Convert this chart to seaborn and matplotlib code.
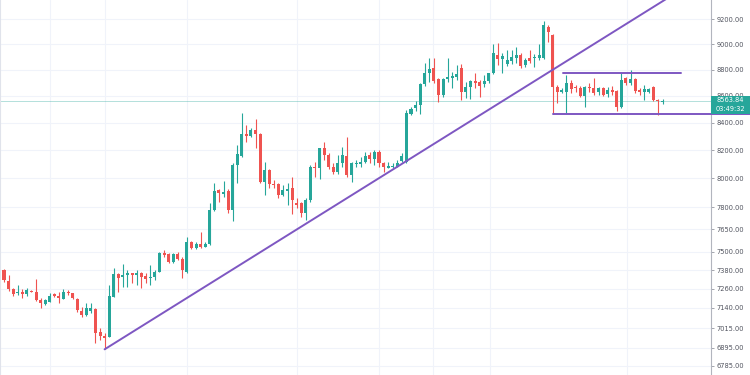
import numpy as np
import pandas as pd
import seaborn as sns
import matplotlib
matplotlib.use("Agg")
import matplotlib.pyplot as plt
from matplotlib.patches import Rectangle
from matplotlib.ticker import FixedLocator, NullLocator, FuncFormatter

# OHLC, one row of ten candles per line
opens = [7381, 7312, 7257, 7232, 7242, 7225, 7248, 7238, 7189, 7162,
         7179, 7225, 7215, 7196, 7238, 7232, 7196, 7120, 7095, 7122,
         7133, 6992, 6966, 6962, 7210, 7353, 7334, 7349, 7360, 7349,
         7360, 7345, 7328, 7338, 7371, 7494, 7486, 7435, 7486, 7453,
         7366, 7563, 7523, 7552, 7534, 7552, 7780, 7918, 7890, 7911,
         7777, 8092, 8161, 8315, 8305, 8346, 8315, 7972, 8058, 7963,
         7958, 7883, 7911, 7934, 7830, 7826, 7757, 7849, 8079, 8070,
         8213, 8165, 8082, 8042, 8106, 8158, 8023, 8098, 8098, 8117,
         8165, 8134, 8189, 8106, 8075, 8078, 8082, 8125, 8117, 8463,
         8509, 8531, 8688, 8772, 8810, 8726, 8607, 8726, 8736, 8744,
         8810, 8628, 8667, 8713, 8708, 8688, 8713, 8772, 8914, 8880,
         8841, 8869, 8893, 8914, 8836, 8893, 8888, 8893, 8893, 9138,
         9075, 8669, 8632, 8632, 8695, 8670, 8662, 8601, 8670, 8662,
         8632, 8657, 8612, 8644, 8637, 8516, 8734, 8695, 8726, 8644,
         8632, 8632, 8670, 8569, 8554]
highs = [7388, 7349, 7265, 7285, 7259, 7264, 7253, 7321, 7204, 7196,
         7232, 7236, 7242, 7257, 7253, 7236, 7204, 7148, 7172, 7168,
         7137, 7013, 6982, 7285, 7392, 7364, 7420, 7381, 7364, 7381,
         7371, 7360, 7414, 7381, 7501, 7512, 7494, 7490, 7501, 7468,
         7600, 7573, 7567, 7630, 7567, 7826, 7965, 7925, 7980, 7923,
         8106, 8237, 8469, 8383, 8361, 8427, 8322, 8117, 8063, 7988,
         7965, 7953, 7965, 8006, 7860, 7837, 7860, 8094, 8117, 8218,
         8261, 8177, 8106, 8165, 8225, 8297, 8117, 8129, 8153, 8189,
         8189, 8201, 8201, 8117, 8117, 8106, 8129, 8180, 8494, 8518,
         8561, 8695, 8855, 8894, 8894, 8734, 8734, 8894, 8785, 8836,
         8844, 8705, 8720, 8772, 8720, 8759, 8777, 8997, 9006, 8932,
         8953, 8953, 8976, 8932, 8888, 8953, 8919, 8997, 9184, 9152,
         9083, 8682, 8657, 8759, 8720, 8682, 8677, 8677, 8695, 8738,
         8670, 8670, 8670, 8677, 8644, 8772, 8746, 8797, 8734, 8657,
         8682, 8662, 8677, 8576, 8576]
lows = [7304, 7248, 7215, 7221, 7202, 7217, 7238, 7185, 7137, 7158,
        7175, 7210, 7172, 7194, 7223, 7194, 7116, 7085, 7087, 7110,
        6921, 6941, 6885, 6960, 7206, 7242, 7270, 7274, 7296, 7285,
        7264, 7300, 7285, 7317, 7367, 7468, 7428, 7428, 7446, 7328,
        7360, 7516, 7516, 7523, 7530, 7545, 7776, 7837, 7867, 7760,
        7708, 7967, 8153, 8261, 8294, 8213, 7965, 7883, 7930, 7930,
        7865, 7878, 7815, 7751, 7792, 7735, 7712, 7837, 8006, 7995,
        8129, 8065, 8030, 8033, 8082, 8011, 7976, 8082, 8082, 8106,
        8106, 8094, 8082, 8046, 8070, 8070, 8077, 8117, 8110, 8457,
        8488, 8461, 8677, 8707, 8695, 8556, 8594, 8707, 8657, 8720,
        8569, 8581, 8576, 8657, 8594, 8670, 8695, 8764, 8836, 8772,
        8828, 8846, 8855, 8810, 8823, 8849, 8823, 8875, 8880, 9018,
        8467, 8550, 8619, 8471, 8619, 8632, 8594, 8516, 8627, 8607,
        8607, 8601, 8594, 8607, 8486, 8511, 8682, 8682, 8619, 8607,
        8569, 8619, 8561, 8459, 8537]
closes = [7317, 7257, 7225, 7242, 7225, 7253, 7242, 7189, 7168, 7189,
          7217, 7215, 7200, 7238, 7232, 7200, 7127, 7095, 7137, 7141,
          6982, 6966, 6952, 7217, 7353, 7332, 7347, 7364, 7349, 7360,
          7338, 7323, 7338, 7371, 7494, 7479, 7435, 7486, 7451, 7381,
          7563, 7523, 7550, 7530, 7550, 7780, 7911, 7899, 7906, 7780,
          8094, 8170, 8315, 8305, 8346, 8315, 7972, 8058, 7963, 7953,
          7883, 7918, 7925, 7849, 7815, 7757, 7849, 8077, 8070, 8213,
          8165, 8082, 8042, 8106, 8165, 8023, 8106, 8110, 8117, 8158,
          8134, 8189, 8106, 8082, 8087, 8087, 8110, 8158, 8474, 8505,
          8531, 8688, 8772, 8805, 8713, 8607, 8726, 8744, 8751, 8766,
          8628, 8667, 8713, 8695, 8677, 8713, 8772, 8930, 8880, 8906,
          8875, 8901, 8914, 8828, 8875, 8867, 8901, 8914, 9152, 9093,
          8669, 8629, 8644, 8695, 8652, 8662, 8601, 8670, 8662, 8619,
          8657, 8607, 8644, 8627, 8516, 8720, 8695, 8726, 8637, 8632,
          8652, 8652, 8569, 8561, 8563.84]

price_ticks = [6785, 6895, 7015, 7140, 7260, 7380, 7500, 7650, 7800,
               8000, 8200, 8400, 8600, 8800, 9000, 9200]
date_grid = [10.1, 22.1, 40.0, 64.1, 82.0, 93.8, 106.3, 136.2]

last_price = 8563.84
countdown = "03:49:32"

# drawn levels: trendline anchors, range box
trend_a = (22, 6885)
trend_b = (88, 8122)
resistance = 8771
resistance_span = (122.3, 148.1)
support = 8466
support_span = (120, 163.2)

UP = "#26a69a"
DOWN = "#ef5350"
PURPLE = "#7e57c2"

df = pd.DataFrame({"open": opens, "high": highs, "low": lows, "close": closes})
df["idx"] = np.arange(len(df))
df["up"] = df["close"] >= df["open"]

sns.set_theme(style="white")
plt.rcParams["font.family"] = ["DejaVu Sans"]

fig = plt.figure(figsize=(7.5, 3.75), dpi=100)
ax = fig.add_axes([0, 0, 711 / 750, 1])
ax.set_yscale("log")

colors = np.where(df["up"], UP, DOWN)
ax.vlines(df["idx"], df["low"], df["high"], colors=colors, lw=0.8, zorder=3)
body_low = df[["open", "close"]].min(axis=1)
body_h = np.maximum((df["close"] - df["open"]).abs(), body_low * 0.001)
ax.bar(df["idx"], body_h, bottom=body_low, width=0.66, color=colors,
       linewidth=0, zorder=4)

# trendline, straight on the log scale
slope = (np.log(trend_b[1]) - np.log(trend_a[1])) / (trend_b[0] - trend_a[0])
tx = np.array([trend_a[0], 150])
ty = np.exp(np.log(trend_a[1]) + slope * (tx - trend_a[0]))
sns.lineplot(x=tx, y=ty, ax=ax, color=PURPLE, lw=1.4, zorder=5, legend=False)

ax.plot(resistance_span, [resistance] * 2, color=PURPLE, lw=1.4, zorder=5)
ax.plot(support_span, [support] * 2, color=PURPLE, lw=1.4, zorder=5, clip_on=False)

ax.axhline(last_price, color=UP, lw=0.7, alpha=0.35, zorder=2)

ax.set_xlim(-0.875, 154.6)
ax.set_ylim(6731.6, 9354.7)
ax.set_xlabel("")
ax.set_ylabel("")

ax.yaxis.set_major_locator(FixedLocator(price_ticks))
ax.yaxis.set_minor_locator(NullLocator())
ax.yaxis.set_major_formatter(FuncFormatter(lambda v, _: f"{v:.2f}"))
ax.yaxis.tick_right()
ax.tick_params(axis="y", labelsize=4.8, labelcolor="#50535e", color="#9598a1",
               length=2.5, width=0.6, pad=1.5, direction="out")
ax.set_xticks(date_grid)
ax.tick_params(axis="x", length=0, labelbottom=False)
ax.grid(True, color="#f0f3fa", lw=0.8, zorder=0)

for side in ["top", "bottom"]:
    ax.spines[side].set_visible(False)
ax.spines["left"].set_color("#e0e3eb")
ax.spines["left"].set_linewidth(0.8)
ax.spines["right"].set_color("#b2b5be")
ax.spines["right"].set_linewidth(0.8)

# price and countdown badges on the scale
for top_px, label in [(96, f"{last_price:.2f}"), (105, countdown)]:
    fig.patches.append(Rectangle((711 / 750, 1 - (top_px + 8.5) / 375), 39 / 750, 8.5 / 375,
                                 transform=fig.transFigure, facecolor=UP,
                                 edgecolor="none", zorder=5))
    fig.text(730.5 / 750, 1 - (top_px + 4.3) / 375, label, ha="center", va="center",
             fontsize=4.8, color="white", zorder=6)

fig.savefig("out.png", dpi=100)
